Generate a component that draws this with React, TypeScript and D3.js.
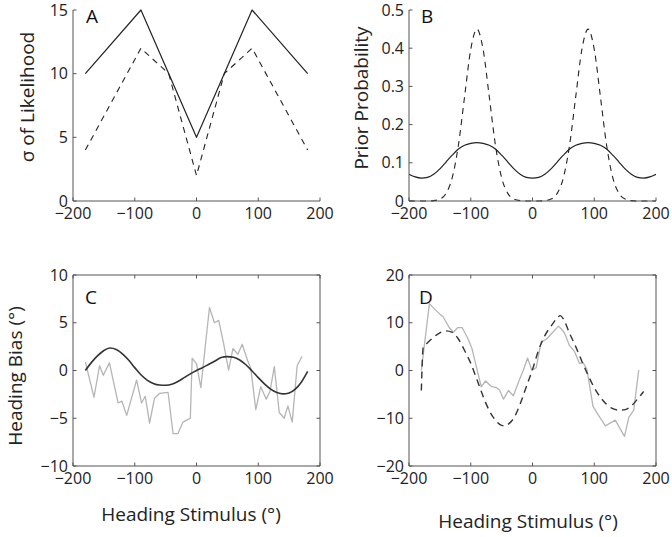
import React from "react";
import * as d3 from "d3";

// ---------- shared ----------
const xTicks = [-200, -100, 0, 100, 200];

// ---------- Panel A: sigma of likelihood ----------
const aSolidX = [-180, -90, 0, 90, 180];
const aSolidY = [10, 15, 5, 15, 10];
const aDashX = [-180, -90, -45, 0, 45, 90, 180];
const aDashY = [4, 12, 10, 2, 10, 12, 4];
const aYTicks = [0, 5, 10, 15];

// ---------- Panel B: prior probability ----------
const bX = [-200, -190, -180, -170, -160, -150, -140, -130, -120, -110, -100, -90, -80, -70, -60, -50, -40, -30, -20, -10, 0,
  10, 20, 30, 40, 50, 60, 70, 80, 90, 100, 110, 120, 130, 140, 150, 160, 170, 180, 190, 200];
const bSolid = [0.07, 0.063, 0.06, 0.062, 0.07, 0.084, 0.102, 0.12, 0.136, 0.146, 0.151, 0.153, 0.151, 0.146, 0.136, 0.12, 0.102, 0.084, 0.07, 0.062, 0.06,
  0.062, 0.07, 0.084, 0.102, 0.12, 0.136, 0.146, 0.151, 0.153, 0.151, 0.146, 0.136, 0.12, 0.102, 0.084, 0.07, 0.062, 0.06, 0.063, 0.07];
const bDash = [0, 0, 0, 0, 0.001, 0.005, 0.02, 0.061, 0.146, 0.273, 0.397, 0.45, 0.397, 0.273, 0.146, 0.061, 0.02, 0.005, 0.001, 0, 0,
  0, 0.001, 0.005, 0.02, 0.061, 0.146, 0.273, 0.397, 0.45, 0.397, 0.273, 0.146, 0.061, 0.02, 0.005, 0.001, 0, 0, 0, 0];
const bYTicks = [0, 0.1, 0.2, 0.3, 0.4, 0.5];

// ---------- Panel C: heading bias ----------
const cFitX = [-180, -170, -160, -150, -140, -130, -120, -110, -100, -90, -80, -70, -60, -50, -40, -30, -20, -10, 0,
  10, 20, 30, 40, 50, 60, 70, 80, 90, 100, 110, 120, 130, 140, 150, 160, 170, 180];
const cFitY = [0.0, 0.85, 1.55, 2.1, 2.35, 2.2, 1.75, 1.1, 0.3, -0.45, -1.0, -1.35, -1.52, -1.55, -1.45, -1.15, -0.75, -0.35, 0.0,
  0.3, 0.65, 1.0, 1.35, 1.45, 1.38, 1.1, 0.6, -0.05, -0.75, -1.4, -1.95, -2.3, -2.45, -2.35, -1.95, -1.2, -0.1];
const cDataX = [-180, -166, -157, -151, -141, -127, -121, -113, -97, -89, -83, -76, -68, -60, -46, -38, -30, -22, -16, -10,
  -7, 0, 7, 21, 29, 36, 44, 52, 59, 67, 74, 83, 88, 96, 104, 113, 119, 126, 134, 142, 148, 155, 163, 171];
const cDataY = [0.9, -2.8, 0.5, -0.5, 0.8, -3.4, -3.2, -4.7, -1.0, -3.4, -2.7, -5.5, -2.9, -2.4, -2.3, -6.6, -6.6, -5.4, -5.2, -5.0,
  1.3, 0.7, -1.8, 6.6, 5.0, 5.25, 2.8, 0.05, 2.3, 1.7, 2.75, 1.0, 0.2, -4.1, -1.7, -3.0, -2.2, 0.4, -4.4, -5.0, -3.7, -5.4, 0.5, 1.5];
const cYTicks = [-10, -5, 0, 5, 10];

// ---------- Panel D ----------
const dDataX = [-180, -167, -158, -150, -145, -135, -128, -121, -114, -105, -98, -91, -83, -76, -67, -58, -53, -47, -39, -31,
  -22, -15, -8, -1, 6, 14, 22, 30, 42, 46, 52, 60, 68, 76, 82, 88, 98, 107, 118, 134, 149, 156, 164, 172];
const dDataY = [0, 14.0, 12.8, 11.8, 11.3, 9.0, 8.0, 9.0, 9.0, 6.8, 4.6, 0.8, -3.4, -2.2, -3.3, -3.6, -4.2, -6.0, -4.2, -5.3,
  -2.2, 0.0, 2.6, 0.0, 0.6, 6.0, 6.5, 7.6, 9.3, 8.8, 7.8, 5.2, 4.0, 1.5, 1.6, 0.3, -7.5, -9.4, -11.6, -10.4, -13.8, -9.8, -8.3, 0.1];
const dFitX = [-180, -177, -170, -160, -150, -140, -130, -120, -110, -100, -90, -80, -70, -60, -50, -45, -40, -30, -20, -10,
  0, 10, 20, 30, 40, 45, 50, 60, 70, 80, 90, 100, 110, 120, 130, 140, 150, 160, 170, 180];
const dFitY = [-4.2, 4.8, 5.8, 7.0, 7.9, 8.3, 8.0, 6.6, 4.2, 1.5, -1.9, -5.4, -8.4, -10.4, -11.5, -11.6, -11.3, -9.9, -7.0, -3.4,
  0.2, 4.3, 7.3, 9.3, 11.0, 11.5, 10.8, 7.8, 5.0, 1.9, -1.0, -3.6, -5.6, -7.1, -8.0, -8.3, -8.2, -7.4, -6.0, -4.4];
const dYTicks = [-20, -10, 0, 10, 20];

const FONT = "'Open Sans', 'Noto Sans', sans-serif";
const fmt = (v: number) => (v < 0 ? "\u2212" + String(-v) : String(v));

type Series = { xs: number[]; ys: number[]; color: string; width: number; dash?: string; curve: d3.CurveFactory };

type PanelProps = {
  x0: number; x1: number; yTop: number; yBot: number;
  yDomain: [number, number]; yTicks: number[]; box: boolean;
  letter: string; series: Series[];
};

function Panel({ x0, x1, yTop, yBot, yDomain, yTicks, box, letter, series }: PanelProps) {
  const x = d3.scaleLinear().domain([-200, 200]).range([x0, x1]);
  const y = d3.scaleLinear().domain(yDomain).range([yBot, yTop]);
  const tl = 3.5;
  const axisColor = "#555";
  const clipId = "clip-" + letter;
  return (
    <g>
      <defs>
        <clipPath id={clipId}>
          <rect x={x0} y={yTop - 2} width={x1 - x0} height={yBot - yTop + 4} />
        </clipPath>
      </defs>
      <g clipPath={`url(#${clipId})`}>
        {series.map((s, i) => {
          const pts = s.xs.map((v, k) => [v, s.ys[k]] as [number, number]);
          const line = d3.line<[number, number]>().x(d => x(d[0])).y(d => y(d[1])).curve(s.curve);
          return (
            <path key={i} d={line(pts) || ""} fill="none" stroke={s.color} strokeWidth={s.width}
              strokeDasharray={s.dash} strokeLinejoin="round" />
          );
        })}
      </g>
      {/* spines */}
      <line x1={x0} x2={x1} y1={yBot} y2={yBot} stroke={axisColor} strokeWidth={1} />
      <line x1={x0} x2={x0} y1={yTop} y2={yBot} stroke={axisColor} strokeWidth={1} />
      {box && <line x1={x0} x2={x1} y1={yTop} y2={yTop} stroke={axisColor} strokeWidth={1} />}
      {box && <line x1={x1} x2={x1} y1={yTop} y2={yBot} stroke={axisColor} strokeWidth={1} />}
      {/* ticks */}
      {xTicks.map(t => (
        <g key={"xt" + t}>
          <line x1={x(t)} x2={x(t)} y1={yBot} y2={yBot - tl} stroke={axisColor} />
          {box && <line x1={x(t)} x2={x(t)} y1={yTop} y2={yTop + tl} stroke={axisColor} />}
          <text x={x(t)} y={yBot + 18} textAnchor="middle" fontSize={16} fill="#222" fontFamily={FONT}>{fmt(t)}</text>
        </g>
      ))}
      {yTicks.map(t => (
        <g key={"yt" + t}>
          <line x1={x0} x2={x0 + tl} y1={y(t)} y2={y(t)} stroke={axisColor} />
          {box && <line x1={x1} x2={x1 - tl} y1={y(t)} y2={y(t)} stroke={axisColor} />}
          <text x={x0 - 5} y={y(t) + 5.5} textAnchor="end" fontSize={16} fill="#222" fontFamily={FONT}>{fmt(t)}</text>
        </g>
      ))}
    </g>
  );
}

export default function App() {
  const dark = "#222";
  const gray = "#b5b5b5";
  return (
    <svg width={672} height={537} style={{ position: "absolute", left: 0, top: 0, background: "#fff" }}
      fontFamily={FONT}>
      <rect x={0} y={0} width={672} height={537} fill="#fff" />
      <Panel x0={73} x1={320} yTop={10} yBot={201} yDomain={[0, 15]} yTicks={aYTicks} box={false} letter="A"
        series={[
          { xs: aSolidX, ys: aSolidY, color: dark, width: 1.2, curve: d3.curveLinear },
          { xs: aDashX, ys: aDashY, color: dark, width: 1.1, dash: "6,5", curve: d3.curveLinear },
        ]} />
      <Panel x0={409} x1={656} yTop={10} yBot={201} yDomain={[0, 0.5]} yTicks={bYTicks} box={false} letter="B"
        series={[
          { xs: bX, ys: bSolid, color: dark, width: 1.2, curve: d3.curveMonotoneX },
          { xs: bX, ys: bDash, color: dark, width: 1.1, dash: "6,5", curve: d3.curveMonotoneX },
        ]} />
      <Panel x0={73} x1={320} yTop={275} yBot={466} yDomain={[-10, 10]} yTicks={cYTicks} box={true} letter="C"
        series={[
          { xs: cDataX, ys: cDataY, color: gray, width: 1.3, curve: d3.curveLinear },
          { xs: cFitX, ys: cFitY, color: "#333", width: 1.6, curve: d3.curveMonotoneX },
        ]} />
      <Panel x0={409} x1={656} yTop={275} yBot={466} yDomain={[-20, 20]} yTicks={dYTicks} box={true} letter="D"
        series={[
          { xs: dDataX, ys: dDataY, color: gray, width: 1.3, curve: d3.curveLinear },
          { xs: dFitX, ys: dFitY, color: "#333", width: 1.4, dash: "7,5", curve: d3.curveMonotoneX },
        ]} />

      {/* panel letters */}
      <text x={86} y={23} fontSize={19} fill="#111">A</text>
      <text x={421} y={23} fontSize={19} fill="#111">B</text>
      <text x={85} y={304} fontSize={19} fill="#111">C</text>
      <text x={419} y={304} fontSize={19} fill="#111">D</text>

      {/* axis labels */}
      <text transform="translate(27,97) rotate(-90)" textAnchor="middle" dominantBaseline="central" fontSize={19} fill="#222">σ of Likelihood</text>
      <text transform="translate(361,98) rotate(-90)" textAnchor="middle" dominantBaseline="central" fontSize={19} fill="#222">Prior Probability</text>
      <text transform="translate(15,376) rotate(-90)" textAnchor="middle" dominantBaseline="central" fontSize={19} fill="#222">Heading Bias (°)</text>
      <text x={191} y={521} textAnchor="middle" fontSize={19} fill="#222">Heading Stimulus (°)</text>
      <text x={528} y={528} textAnchor="middle" fontSize={19} fill="#222">Heading Stimulus (°)</text>
    </svg>
  );
}
